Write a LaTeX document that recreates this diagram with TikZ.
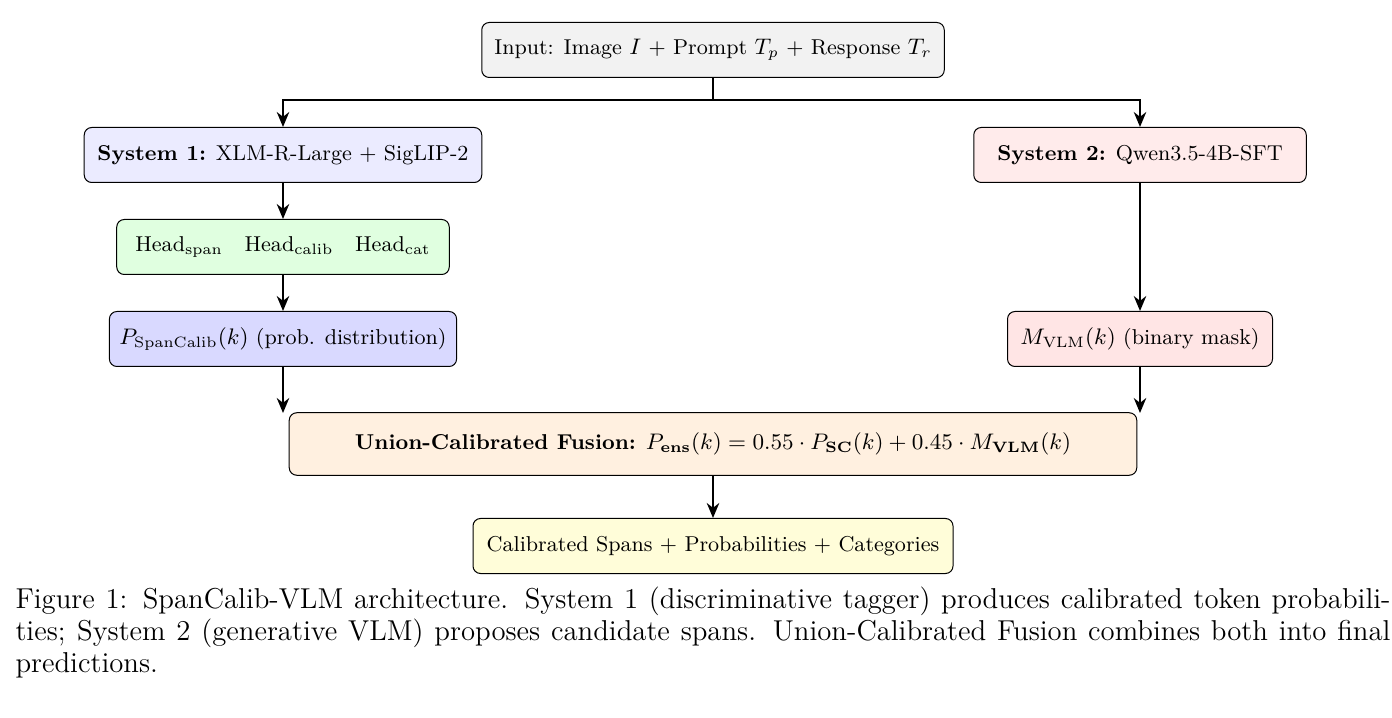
\documentclass[tikz,border=0pt]{standalone}
\usepackage{tikz}
\usetikzlibrary{arrows.meta,positioning}

\tikzset{
  box/.style={draw, rounded corners=3pt, minimum height=22pt, inner sep=4pt, font=\fontsize{8.6}{10}\selectfont},
  arr/.style={-{Stealth[length=6pt,width=5pt]}, line width=0.7pt}
}

\begin{document}
\begin{tikzpicture}[x=0.4pt, y=-0.4pt]

\useasboundingbox (0,0) rectangle (1392,718);

% input
\node[box, fill=gray!10, minimum width=185pt] (input) at (713,50) {Input: Image $I$ + Prompt $T_p$ + Response $T_r$};

% two systems
\node[box, fill=blue!8, minimum width=159pt] (sysA) at (283,155) {\textbf{System 1:} XLM-R-Large + SigLIP-2};
\node[box, fill=red!8, minimum width=133pt] (sysB) at (1140,155) {\textbf{System 2:} Qwen3.5-4B-SFT};

% heads and outputs of the systems
\node[box, fill=green!12, minimum width=133pt] (heads) at (283,247) {Head$_{\mathrm{span}}$\quad Head$_{\mathrm{calib}}$\quad Head$_{\mathrm{cat}}$};
\node[box, fill=blue!15, minimum width=138pt] (probA) at (283,339) {$P_{\mathrm{SpanCalib}}(k)$ (prob. distribution)};
\node[box, fill=red!10, minimum width=106pt] (maskB) at (1140,339) {$M_{\mathrm{VLM}}(k)$ (binary mask)};

% fusion and result
\node[box, fill=orange!12, minimum width=339pt, minimum height=25pt] (fusion) at (713,444)
  {\textbf{Union-Calibrated Fusion:} $P_{\mathbf{ens}}(k) = 0.55 \cdot P_{\mathbf{SC}}(k) + 0.45 \cdot M_{\mathbf{VLM}}(k)$};
\node[box, fill=yellow!15, minimum width=192pt] (result) at (713,546) {Calibrated Spans + Probabilities + Categories};

% connectors
\coordinate (split) at (713,100);
\coordinate (inA) at (283,413);
\coordinate (inB) at (1140,413);
\draw[line width=0.7pt] (input.south) -- (split);
\draw[arr] (split) -| (sysA.north);
\draw[arr] (split) -| (sysB.north);
\draw[arr] (sysA) -- (heads);
\draw[arr] (heads) -- (probA);
\draw[arr] (sysB) -- (maskB);
\draw[arr] (probA.south) -- (inA);
\draw[arr] (maskB.south) -- (inB);
\draw[arr] (fusion) -- (result);

% caption
\node[anchor=north west, text width=550pt, align=justify, inner sep=0pt, font=\fontsize{11.5}{12.8}\selectfont] (caption) at (15,586)
  {\hyphenpenalty=10000 Figure 1: SpanCalib-VLM architecture. System 1 (discriminative tagger) produces calibrated token probabilities; System 2 (generative VLM) proposes candidate spans. Union-Calibrated Fusion combines both into final predictions.};

\end{tikzpicture}
\end{document}
